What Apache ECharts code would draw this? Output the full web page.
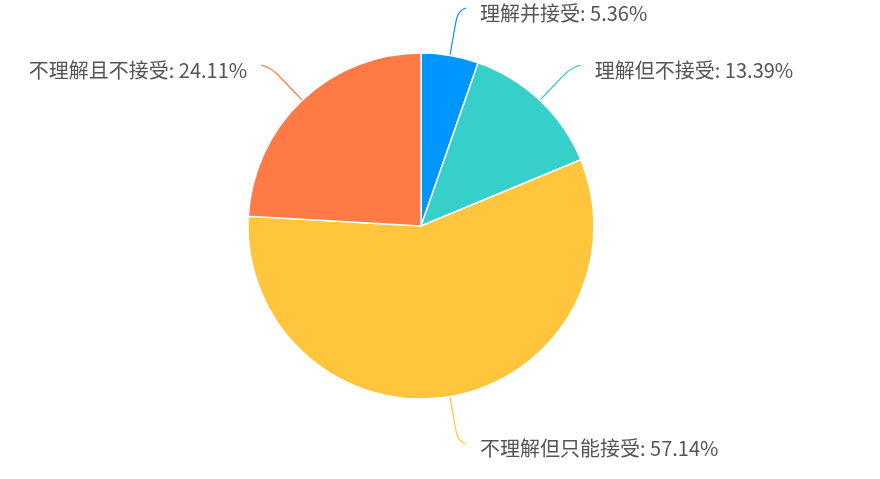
<!DOCTYPE html>
<html>
<head>
<meta charset="utf-8">
<script src="https://cdn.jsdelivr.net/npm/echarts@6/dist/echarts.min.js"></script>
<style>
  html, body { margin: 0; padding: 0; background: #fff; }
  #main { width: 880px; height: 479px; }
</style>
</head>
<body>
<div id="main"></div>
<script>
// 各选项人数 (百分比由 ECharts 计算)
const categories = ['理解并接受', '理解但不接受', '不理解但只能接受', '不理解且不接受'];
const counts = [6, 15, 64, 27];
const colors = ['#0096ff', '#36cfc9', '#ffc53d', '#ff7a45'];

const chart = echarts.init(document.getElementById('main'));

chart.setOption({
    backgroundColor: '#fff',
    color: colors,
    series: [{
        type: 'pie',
        center: [421, 226],
        radius: 173,
        startAngle: 90,
        itemStyle: { borderColor: '#fff', borderWidth: 1.5 },
        label: {
            formatter: p => `${p.name}: ${p.percent.toFixed(2)}%`,
            fontSize: 20,
            color: '#555',
            fontFamily: '"Noto Sans CJK SC", sans-serif',
            offset: [0, 5],
            distanceToLabelLine: 14
        },
        labelLine: { length: 48, length2: 8, smooth: 0.8, lineStyle: { width: 1.2 } },
        emphasis: { scale: false },
        data: categories.map((name, i) => ({ name, value: counts[i] }))
    }]
});
</script>
</body>
</html>
